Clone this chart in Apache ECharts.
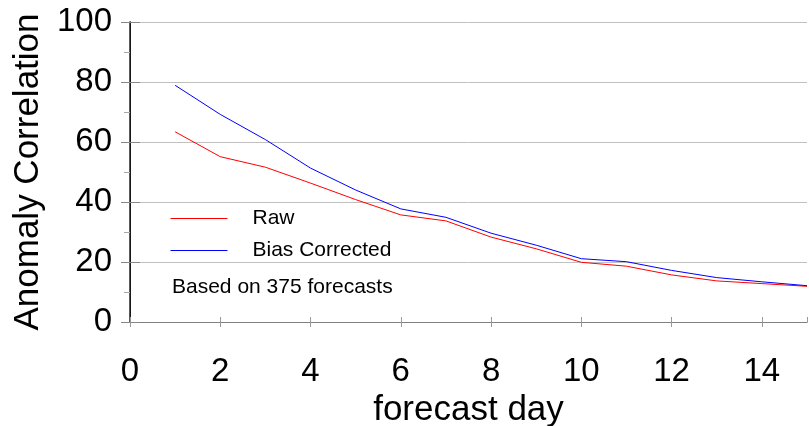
<!DOCTYPE html>
<html>
<head>
<meta charset="utf-8">
<script src="https://cdn.jsdelivr.net/npm/echarts@6/dist/echarts.min.js"></script>
<style>
  html, body { margin: 0; padding: 0; background: #fff; }
  #chart { width: 809px; height: 426px; }
</style>
</head>
<body>
<div id="chart"></div>
<script>
// Forecast lead time in days
const days = [1, 2, 3, 4, 5, 6, 7, 8, 9, 10, 11, 12, 13, 14, 15];
// Anomaly correlation of the raw forecasts
const rawScores = [63.4, 55.1, 51.6, 46.3, 40.8, 35.7, 33.7, 28.3, 24.4, 19.9, 18.6, 15.7, 13.7, 12.8, 11.9];
// Anomaly correlation after bias correction
const correctedScores = [78.9, 69.2, 60.8, 51.3, 44.0, 37.7, 34.9, 29.6, 25.6, 21.1, 20.1, 17.2, 14.8, 13.4, 12.1];
const seriesNames = ['Raw', 'Bias Corrected'];
const seriesColors = ['#ff0000', '#0000ff'];
const note = 'Based on 375 forecasts';

const FONT = '"Liberation Sans", Arial, sans-serif';

const chart = echarts.init(document.getElementById('chart'), null, { renderer: 'canvas' });

const pairs = (ys) => days.map((d, i) => [d, ys[i]]);

const hidden = { show: false };

chart.setOption({
  animation: false,
  backgroundColor: '#ffffff',
  color: seriesColors,
  grid: { left: 130, right: 2, top: 22, bottom: 104, containLabel: false, outerBoundsMode: 'none' },
  legend: {
    orient: 'vertical',
    left: 170,
    top: 208,
    padding: 0,
    itemWidth: 57,
    itemHeight: 12,
    itemGap: 11,
    // plain line keys, no point marker
    itemStyle: { opacity: 0 },
    data: [
      { name: seriesNames[0], lineStyle: { color: seriesColors[0], width: 1, opacity: 1 } },
      { name: seriesNames[1], lineStyle: { color: seriesColors[1], width: 1, opacity: 1 } }
    ],
    textStyle: { fontFamily: FONT, fontSize: 21, color: '#000', lineHeight: 21, padding: [0, 0, 0, 20] }
  },
  graphic: [
    {
      type: 'text',
      left: 172,
      top: 277,
      style: { text: note, fontFamily: FONT, fontSize: 21, fill: '#000' }
    }
  ],
  xAxis: [
    {
      type: 'value', position: 'bottom', min: 0, max: 15, interval: 2,
      axisLine: { show: true, lineStyle: { color: '#808080', width: 1 } },
      axisTick: { show: true, inside: false, length: 5, lineStyle: { color: '#999999' } },
      axisLabel: { show: true, margin: 33, fontFamily: FONT, fontSize: 33, color: '#000', showMaxLabel: false },
      splitLine: hidden,
      name: 'forecast day', nameLocation: 'middle', nameGap: 68,
      nameTextStyle: { fontFamily: FONT, fontSize: 35, color: '#000' }
    },
    {
      type: 'value', position: 'bottom', min: 0, max: 15, interval: 2,
      axisLine: hidden,
      axisTick: { show: true, inside: true, length: 5, lineStyle: { color: '#999999' } },
      axisLabel: hidden, splitLine: hidden
    },
    {
      type: 'value', position: 'top', min: 0, max: 15, interval: 2,
      axisLine: { show: true, lineStyle: { color: '#808080', width: 1 } },
      axisTick: hidden, axisLabel: hidden, splitLine: hidden
    }
  ],
  yAxis: [
    {
      type: 'value', position: 'left', min: 0, max: 100, interval: 20,
      axisLine: { show: true, lineStyle: { color: '#000000', width: 1 } },
      axisTick: { show: true, inside: false, length: 9, lineStyle: { color: '#888888' } },
      minorTick: { show: true, splitNumber: 2, length: 6, lineStyle: { color: '#aaaaaa' } },
      axisLabel: { show: true, margin: 18, fontFamily: FONT, fontSize: 33, color: '#000' },
      splitLine: { show: true, lineStyle: { color: '#c0c0c0', width: 1 } },
      name: 'Anomaly Correlation', nameLocation: 'middle', nameGap: 82, nameRotate: 90,
      nameTextStyle: { fontFamily: FONT, fontSize: 35, color: '#000' }
    },
    {
      type: 'value', position: 'left', min: 0, max: 100, interval: 20,
      axisLine: hidden,
      axisTick: { show: true, inside: true, length: 10, lineStyle: { color: '#888888' } },
      minorTick: { show: false },
      axisLabel: hidden, splitLine: hidden
    },
    {
      type: 'value', position: 'right', min: 0, max: 100, interval: 20,
      axisLine: { show: true, lineStyle: { color: '#202020', width: 1.5 } },
      axisTick: hidden, axisLabel: hidden, splitLine: hidden
    }
  ],
  series: [
    {
      name: seriesNames[0], type: 'line', xAxisIndex: 0, yAxisIndex: 0,
      data: pairs(rawScores), symbol: 'none', z: 3,
      lineStyle: { color: seriesColors[0], width: 1 }, itemStyle: { color: seriesColors[0] }
    },
    {
      name: seriesNames[1], type: 'line', xAxisIndex: 0, yAxisIndex: 0,
      data: pairs(correctedScores), symbol: 'none', z: 4,
      lineStyle: { color: seriesColors[1], width: 1 }, itemStyle: { color: seriesColors[1] }
    }
  ]
});
</script>
</body>
</html>
